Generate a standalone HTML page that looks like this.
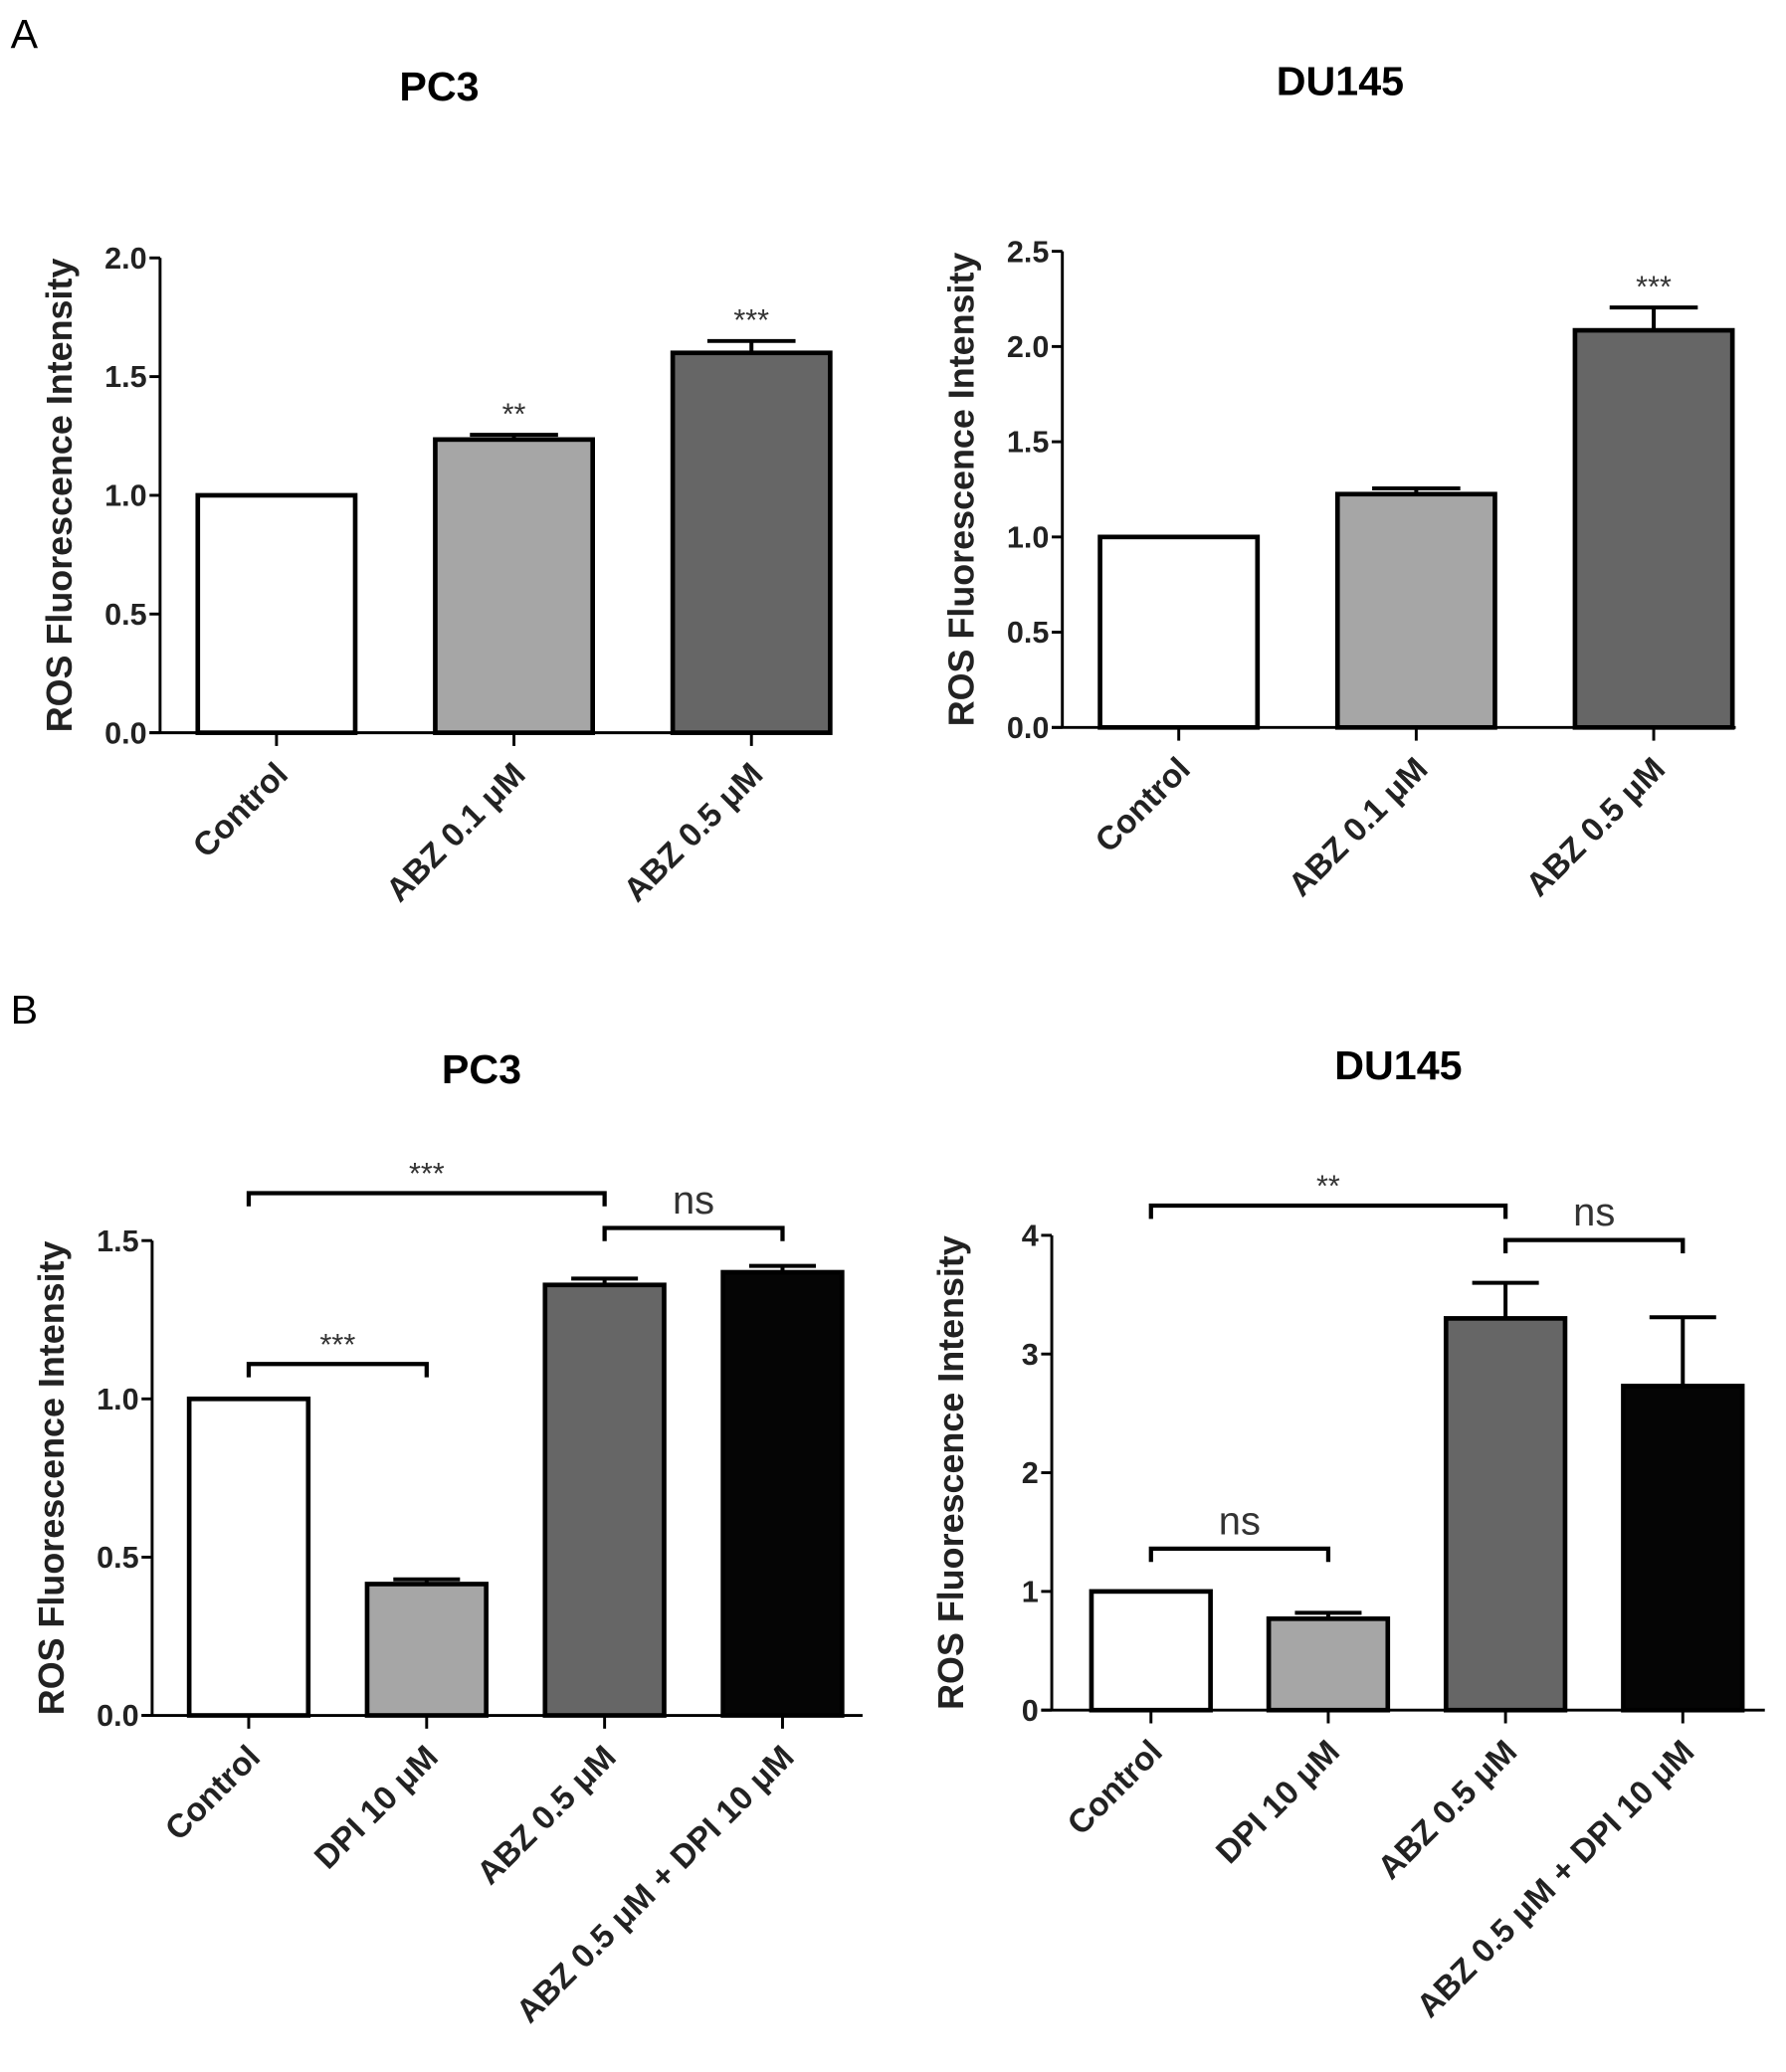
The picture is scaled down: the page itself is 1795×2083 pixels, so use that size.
<!DOCTYPE html>
<html><head><meta charset="utf-8"><style>
html,body{margin:0;padding:0;background:#fff;}
svg{display:block;font-family:"Liberation Sans",Arial,sans-serif;}
</style></head><body>
<svg id="fig" width="1795" height="2083" viewBox="0 0 1350 1566.6" xmlns="http://www.w3.org/2000/svg">
<text x="8" y="36" font-size="31">A</text>
<text x="8" y="774" font-size="31">B</text>
</svg>
<script>
const aPc3Categories = ["Control", "ABZ 0.1 μM", "ABZ 0.5 μM"];
const aPc3Values = [1.0, 1.235, 1.60];
const aPc3Errors = [0, 0.02, 0.05];
const aPc3Stars = ["", "**", "***"];
const aPc3Ticks = [0, 0.5, 1.0, 1.5, 2.0];

const aDuCategories = ["Control", "ABZ 0.1 μM", "ABZ 0.5 μM"];
const aDuValues = [1.0, 1.225, 2.085];
const aDuErrors = [0, 0.03, 0.12];
const aDuStars = ["", "", "***"];
const aDuTicks = [0, 0.5, 1.0, 1.5, 2.0, 2.5];

const bPc3Categories = ["Control", "DPI 10 μM", "ABZ 0.5 μM", "ABZ 0.5 μM + DPI 10 μM"];
const bPc3Values = [1.0, 0.415, 1.36, 1.40];
const bPc3Errors = [0, 0.015, 0.02, 0.02];
const bPc3Ticks = [0, 0.5, 1.0, 1.5];
const bPc3Brackets = [[0, 2, 1.65, "***"], [2, 3, 1.54, "ns"], [0, 1, 1.11, "***"]];

const bDuCategories = ["Control", "DPI 10 μM", "ABZ 0.5 μM", "ABZ 0.5 μM + DPI 10 μM"];
const bDuValues = [1.0, 0.77, 3.3, 2.73];
const bDuErrors = [0, 0.05, 0.3, 0.58];
const bDuTicks = [0, 1, 2, 3, 4];
const bDuBrackets = [[0, 2, 4.25, "**"], [2, 3, 3.96, "ns"], [0, 1, 1.36, "ns"]];

const fills = ["#ffffff", "#a6a6a6", "#666666", "#050505"];
const NS = "http://www.w3.org/2000/svg";
const svg = document.getElementById('fig');
function mk(tag, attrs, parent, text) {
  const e = document.createElementNS(NS, tag);
  for (const k in attrs) e.setAttribute(k, attrs[k]);
  if (text !== undefined) e.textContent = text;
  parent.appendChild(e);
  return e;
}
function chart(o) {
  const g = mk('g', {}, svg);
  
  
  const ymax = o.ticks[o.ticks.length - 1];
  const y = v => o.y0 - (o.y0 - o.yTop) * v / ymax;
  const cx = i => o.ax + o.first + o.step * i;
  const bw = o.bw;
  const t = mk('text', {x: o.titleX, y: o.titleY, 'font-size': 31, 'font-weight': 'bold', 'text-anchor': 'middle'}, g, o.title);
  
  
  const yl = mk('text', {transform: `translate(${o.ax - 67},${(o.y0 + o.yTop) / 2}) rotate(-90)`, 'font-size': 27, 'font-weight': 'bold', 'text-anchor': 'middle', fill: '#222'}, g, 'ROS Fluorescence Intensity');
  
  
  const ax = mk('line', {x1: o.ax, y1: o.yTop, x2: o.ax, y2: o.y0, stroke: '#000', 'stroke-width': 2.2}, g);
  
  
  const xa = mk('line', {x1: o.ax - 8, y1: o.y0, x2: o.xEnd, y2: o.y0, stroke: '#000', 'stroke-width': 2.2}, g);
  
  
  o.ticks.forEach(v => {
    mk('line', {x1: o.ax - 8, y1: y(v), x2: o.ax, y2: y(v), stroke: '#000', 'stroke-width': 2.2}, g);
    const tl = mk('text', {x: o.ax - 10, y: y(v) + 8, 'font-size': 23, 'font-weight': 'bold', 'text-anchor': 'end', fill: '#222'}, g, o.fmt(v));
    
    
  });
  o.cats.forEach((c, i) => {
    const x = cx(i);
    if (o.errs[i] > 0) {
      const ye = y(o.vals[i] + o.errs[i]);
      mk('line', {x1: x, y1: y(o.vals[i]), x2: x, y2: ye, stroke: '#000', 'stroke-width': 3}, g);
      mk('line', {x1: x - bw * 0.28, y1: ye, x2: x + bw * 0.28, y2: ye, stroke: '#000', 'stroke-width': 3}, g);
    }
    const r = mk('rect', {x: x - bw / 2, y: y(o.vals[i]), width: bw, height: o.y0 - y(o.vals[i]), fill: fills[i], stroke: '#000', 'stroke-width': 3.5}, g);
    
    
    mk('line', {x1: x, y1: o.y0, x2: x, y2: o.y0 + 10, stroke: '#000', 'stroke-width': 2.2}, g);
    const xl = mk('text', {transform: `translate(${x + 10},${o.y0 + 33}) rotate(-45)`, 'font-size': 25, 'font-weight': 'bold', 'text-anchor': 'end', fill: '#222'}, g, c);
    
    
    if (o.stars && o.stars[i]) {
      const s = mk('text', {x: x, y: y(o.vals[i] + o.errs[i]) - 8, 'font-size': 23, 'text-anchor': 'middle', fill: '#333'}, g, o.stars[i]);
      
      
    }
  });
  (o.brackets || []).forEach(b => {
    const x1 = cx(b[0]), x2 = cx(b[1]), yy = y(b[2]);
    const p = mk('path', {d: `M${x1} ${yy + 10}V${yy}H${x2}V${yy + 10}`, fill: 'none', stroke: '#000', 'stroke-width': 3.2}, g);
    
    
    const isNs = b[3] === 'ns';
    const s = mk('text', {x: (x1 + x2) / 2, y: yy - (isNs ? 11 : 7), 'font-size': isNs ? 30 : 23, 'text-anchor': 'middle', fill: '#333'}, g, b[3]);
    
    
  });
}
const f1 = v => v.toFixed(1), f0 = v => String(v);
chart({name: 'chart-a-pc3', title: 'PC3', titleX: 332, titleY: 76, cats: aPc3Categories, vals: aPc3Values, errs: aPc3Errors, stars: aPc3Stars, ticks: aPc3Ticks, fmt: f1, ax: 121, xEnd: 628, y0: 554, yTop: 195, first: 88, step: 179.5, bw: 119});
chart({name: 'chart-a-du145', title: 'DU145', titleX: 1013, titleY: 72, cats: aDuCategories, vals: aDuValues, errs: aDuErrors, stars: aDuStars, ticks: aDuTicks, fmt: f1, ax: 803, xEnd: 1312, y0: 550, yTop: 190, first: 88, step: 179.5, bw: 119});
chart({name: 'chart-b-pc3', title: 'PC3', titleX: 364, titleY: 819, cats: bPc3Categories, vals: bPc3Values, errs: bPc3Errors, ticks: bPc3Ticks, fmt: f1, brackets: bPc3Brackets, ax: 115, xEnd: 652, y0: 1297, yTop: 938, first: 73, step: 134.5, bw: 90});
chart({name: 'chart-b-du145', title: 'DU145', titleX: 1057, titleY: 816, cats: bDuCategories, vals: bDuValues, errs: bDuErrors, ticks: bDuTicks, fmt: f0, brackets: bDuBrackets, ax: 795, xEnd: 1334, y0: 1293, yTop: 934, first: 75, step: 134, bw: 90});
</script>
</body></html>
